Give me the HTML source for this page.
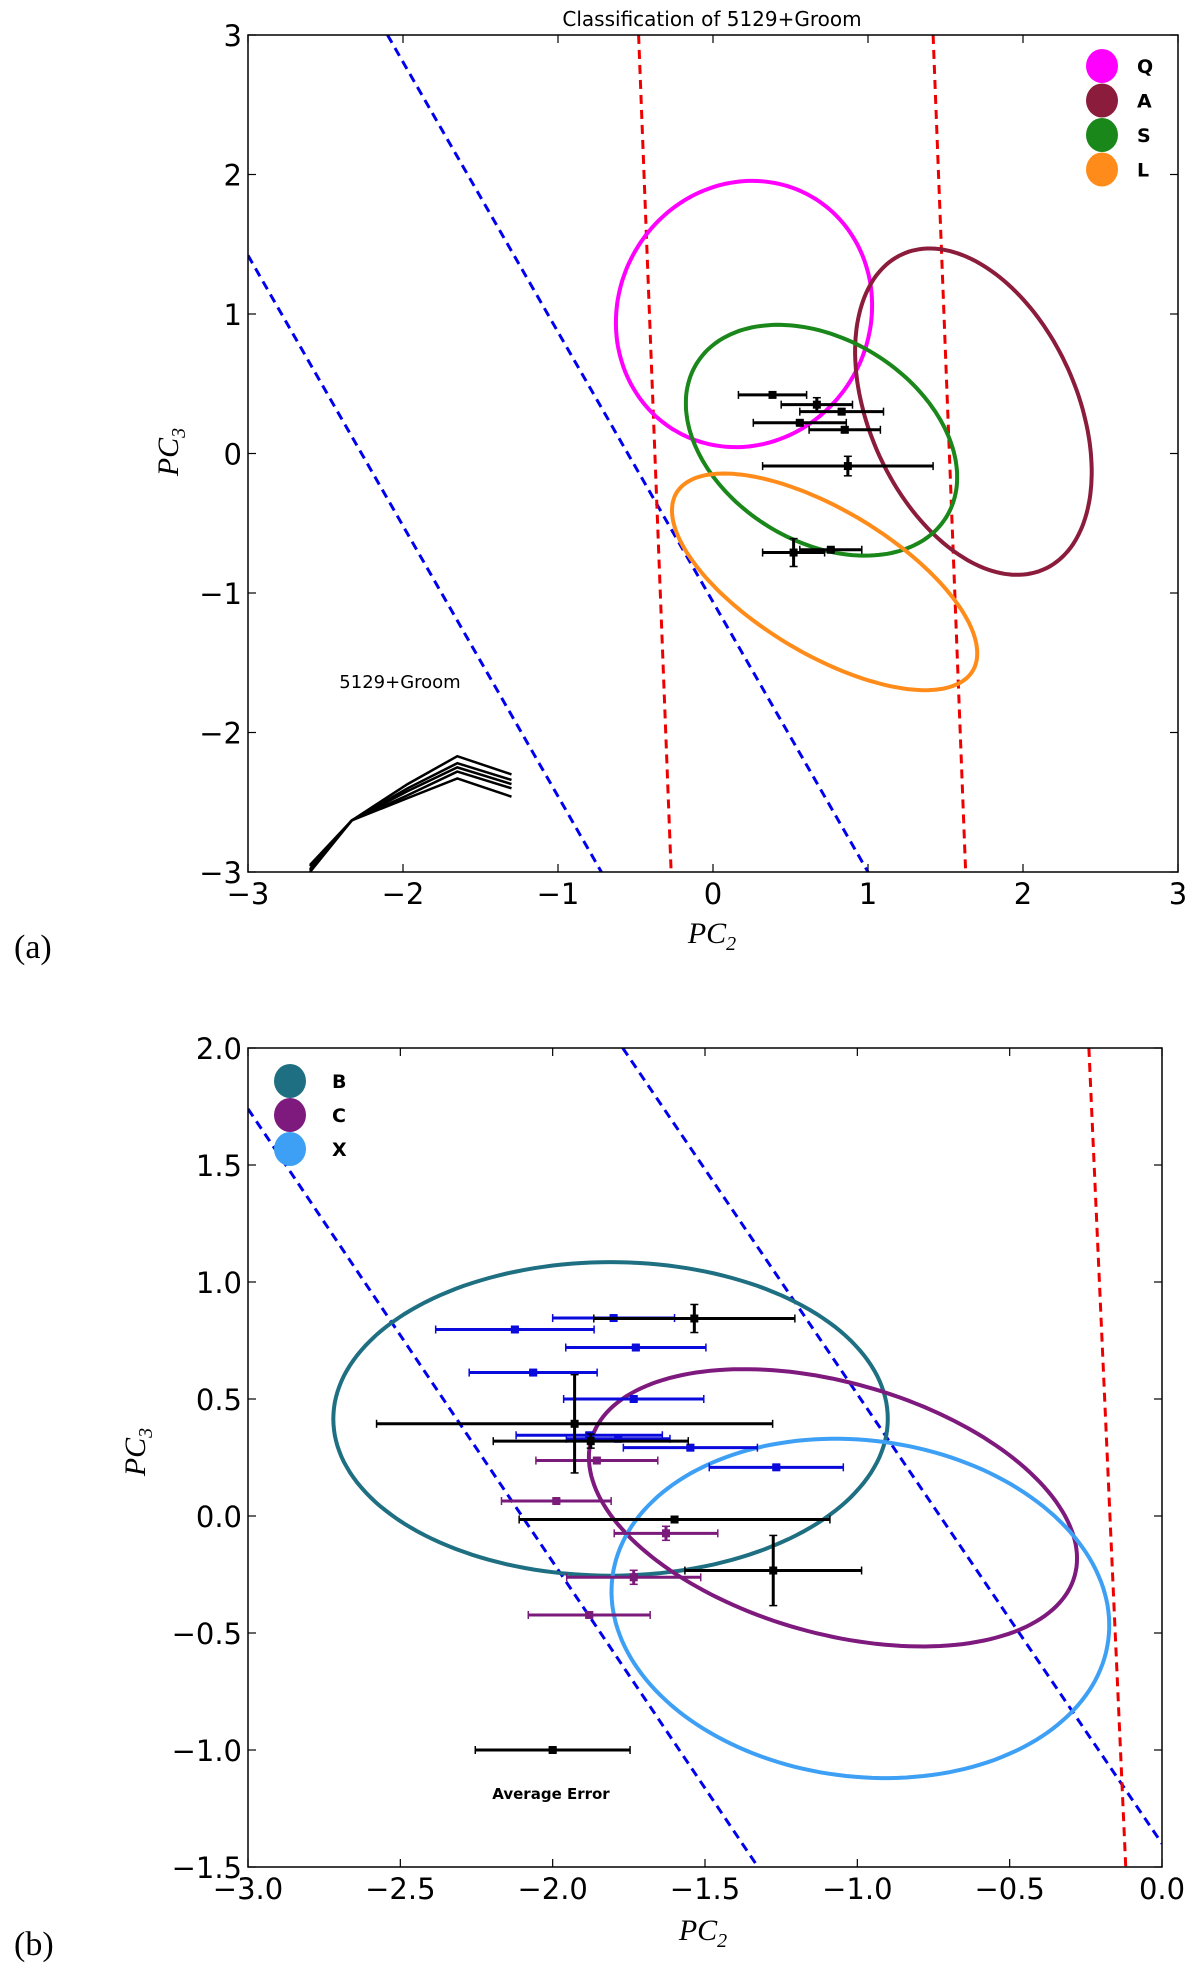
<!DOCTYPE html>
<html><head><meta charset="utf-8"><title>Classification of 5129+Groom</title>
<style>
html,body{margin:0;padding:0;background:#fff;}
svg{display:block;}
.tick{font-family:"DejaVu Sans","Liberation Sans",sans-serif;font-size:29px;fill:#000;}
.lab{font-family:"Liberation Serif",serif;font-style:italic;font-size:30px;fill:#000;}
.panel{font-family:"Liberation Serif",serif;font-size:34px;fill:#000;}
.leg{font-family:"DejaVu Sans","Liberation Sans",sans-serif;font-weight:bold;font-size:19px;fill:#000;}
</style></head>
<body>
<svg id="chart" width="1200" height="1965" viewBox="0 0 1200 1965" xmlns="http://www.w3.org/2000/svg">
<text x="712" y="26" text-anchor="middle" font-family="DejaVu Sans, Liberation Sans, sans-serif" font-size="20">Classification of 5129+Groom</text>
<text x="14" y="958" class="panel">(a)</text>
<text x="14" y="1955" class="panel">(b)</text>
<g id="pa"></g>
<g id="pb"></g>
</svg>
<script>
// ---------- Panel (a) data ----------
const aXTicks = [-3,-2,-1,0,1,2,3];
const aYTicks = [-3,-2,-1,0,1,2,3];
const aEllNames = ["Q","A","S","L"];
const aEllColors = ["#ff00ff","#8b1c3b","#1a871a","#ff8c1a"];
const aEllCx = [0.2,1.68,0.7,0.72];
const aEllCy = [1.0,0.3,0.095,-0.92];
const aEllA = [0.82,1.22,0.98,1.15];
const aEllB = [0.96,0.68,0.7,0.5];
const aEllAng = [-12,-70,-40,-35];
const aLineX1 = [-3,-2.1,-0.48,1.42];
const aLineY1 = [1.42,3,3,3];
const aLineX2 = [-0.72,1.0,-0.27,1.63];
const aLineY2 = [-3,-3,-3,-3];
const aLineColors = ["#0000ee","#0000ee","#ee0000","#ee0000"];
const aPtX = [0.384,0.67,0.83,0.56,0.85,0.87,0.76,0.52];
const aPtY = [0.42,0.35,0.30,0.22,0.17,-0.09,-0.69,-0.71];
const aPtXErr = [0.22,0.23,0.27,0.3,0.23,0.55,0.2,0.2];
const aPtYErr = [0.01,0.05,0.02,0.01,0.02,0.07,0.01,0.1];
const aCurveX = [-2.6,-2.33,-1.97,-1.65,-1.3];
const aCurveY1 = [-3,-2.63,-2.37,-2.17,-2.3];
const aCurveY2 = [-2.98,-2.63,-2.40,-2.22,-2.34];
const aCurveY3 = [-2.96,-2.63,-2.42,-2.25,-2.37];
const aCurveY4 = [-2.95,-2.63,-2.45,-2.28,-2.40];
const aCurveY5 = [-2.99,-2.63,-2.47,-2.33,-2.46];

// ---------- Panel (b) data ----------
const bXTicks = [-3.0,-2.5,-2.0,-1.5,-1.0,-0.5,0.0];
const bYTicks = [-1.5,-1.0,-0.5,0.0,0.5,1.0,1.5,2.0];
const bEllNames = ["B","C","X"];
const bEllColors = ["#1f6f82","#7e1a7e","#3ea0f5"];
const bEllCx = [-1.81,-1.08,-0.99];
const bEllCy = [0.415,0.035,-0.395];
const bEllA = [0.91,0.85,0.83];
const bEllB = [0.67,0.52,0.71];
const bEllAng = [0,-25,-20];
const bLineX1 = [-3,-1.77,-0.24];
const bLineY1 = [1.74,2,2];
const bLineX2 = [-1.326,0,-0.119];
const bLineY2 = [-1.5,-1.4,-1.5];
const bLineColors = ["#0000ee","#0000ee","#ee0000"];
const bBlueX = [-1.80,-2.124,-1.727,-2.064,-1.734,-1.88,-1.785,-1.548,-1.266];
const bBlueY = [0.846,0.797,0.72,0.613,0.50,0.345,0.33,0.292,0.208];
const bBlueXErr = [0.2,0.26,0.23,0.21,0.23,0.24,0.17,0.22,0.22];
const bPurpX = [-1.855,-1.988,-1.628,-1.734,-1.88];
const bPurpY = [0.237,0.064,-0.074,-0.262,-0.423];
const bPurpXErr = [0.2,0.18,0.17,0.22,0.2];
const bPurpYErr = [0.01,0.01,0.03,0.03,0.01];
const bBlackX = [-1.535,-1.928,-1.875,-1.6,-1.276,-2.0];
const bBlackY = [0.844,0.394,0.32,-0.015,-0.233,-1.0];
const bBlackXErr = [0.33,0.65,0.32,0.51,0.29,0.254];
const bBlackYErr = [0.06,0.21,0.03,0.01,0.15,0.01];

const NS = "http://www.w3.org/2000/svg";
function mk(tag, attrs, parent){
  const e = document.createElementNS(NS, tag);
  for (const k in attrs) e.setAttribute(k, attrs[k]);
  parent.appendChild(e);
  return e;
}
function scale(d0,d1,p0,p1){ return v => p0 + (v-d0)/(d1-d0)*(p1-p0); }

function axes(g, sx, sy, L, R, T, B, xt, yt, fmt){
  const frame = mk("rect",{x:L,y:T,width:R-L,height:B-T,fill:"none",stroke:"#000","stroke-width":1.5},g);
  
  
  xt.forEach(v=>{
    const x = sx(v);
    mk("line",{x1:x,y1:B,x2:x,y2:B-8,stroke:"#000","stroke-width":1.2},g);
    mk("line",{x1:x,y1:T,x2:x,y2:T+8,stroke:"#000","stroke-width":1.2},g);
    const t = mk("text",{x:x,y:B+32,"text-anchor":"middle",class:"tick"},g);
    t.textContent = (v<0?"\u2212":"")+fmt(Math.abs(v));
    
    
  });
  yt.forEach(v=>{
    const y = sy(v);
    mk("line",{x1:L,y1:y,x2:L+8,y2:y,stroke:"#000","stroke-width":1.2},g);
    mk("line",{x1:R,y1:y,x2:R-8,y2:y,stroke:"#000","stroke-width":1.2},g);
    const t = mk("text",{x:L-6,y:y+11,"text-anchor":"end",class:"tick"},g);
    t.textContent = (v<0?"\u2212":"")+fmt(Math.abs(v));
    
    
  });
}
function ellipse(g, sx, sy, cx, cy, a, b, angDeg, color, name){
  const th = angDeg*Math.PI/180;
  let d = "";
  for (let i=0;i<=180;i++){
    const p = i/180*2*Math.PI;
    const dx = a*Math.cos(p)*Math.cos(th) - b*Math.sin(p)*Math.sin(th);
    const dy = a*Math.cos(p)*Math.sin(th) + b*Math.sin(p)*Math.cos(th);
    d += (i?"L":"M")+sx(cx+dx).toFixed(1)+","+sy(cy+dy).toFixed(1);
  }
  const e = mk("path",{d:d+"Z",fill:"none",stroke:color,"stroke-width":4},g);
  
  
}
function dline(g, sx, sy, x1,y1,x2,y2,color){
  const e = mk("line",{x1:sx(x1),y1:sy(y1),x2:sx(x2),y2:sy(y2),stroke:color,"stroke-width":3,"stroke-dasharray":"9,6"},g);
  
  
}
function errbar(g, sx, sy, x, y, xe, ye, color, w){
  const eg = mk("g",{},g);
  
  
  const px = sx(x), py = sy(y);
  mk("line",{x1:sx(x-xe),y1:py,x2:sx(x+xe),y2:py,stroke:color,"stroke-width":w},eg);
  mk("line",{x1:sx(x-xe),y1:py-4,x2:sx(x-xe),y2:py+4,stroke:color,"stroke-width":1.5},eg);
  mk("line",{x1:sx(x+xe),y1:py-4,x2:sx(x+xe),y2:py+4,stroke:color,"stroke-width":1.5},eg);
  mk("line",{x1:px,y1:sy(y-ye),x2:px,y2:sy(y+ye),stroke:color,"stroke-width":w},eg);
  mk("line",{x1:px-4,y1:sy(y-ye),x2:px+4,y2:sy(y-ye),stroke:color,"stroke-width":1.5},eg);
  mk("line",{x1:px-4,y1:sy(y+ye),x2:px+4,y2:sy(y+ye),stroke:color,"stroke-width":1.5},eg);
  mk("rect",{x:px-4,y:py-4,width:8,height:8,fill:color},eg);
}
function legend(g, x, y0, dy, names, colors, lx){
  names.forEach((n,i)=>{
    const lg = mk("g",{},g);
    
    
    mk("ellipse",{cx:x,cy:y0+i*dy,rx:16,ry:17,fill:colors[i]},lg);
    const t = mk("text",{x:lx,y:y0+i*dy+7,class:"leg"},lg);
    t.textContent = n;
  });
}

// ---------- draw panel (a) ----------
(function(){
  const g = document.getElementById("pa");
  const L=248,R=1178,T=35,B=872;
  const sx = scale(-3,3,L,R), sy = scale(-3,3,B,T);
  const clip = mk("clipPath",{id:"ca"},g);
  mk("rect",{x:L,y:T,width:R-L,height:B-T},clip);
  const pg = mk("g",{"clip-path":"url(#ca)"},g);
  aLineX1.forEach((v,i)=>dline(pg,sx,sy,aLineX1[i],aLineY1[i],aLineX2[i],aLineY2[i],aLineColors[i]));
  aEllNames.forEach((n,i)=>ellipse(pg,sx,sy,aEllCx[i],aEllCy[i],aEllA[i],aEllB[i],aEllAng[i],aEllColors[i],n));
  aPtX.forEach((v,i)=>errbar(pg,sx,sy,aPtX[i],aPtY[i],aPtXErr[i],aPtYErr[i],"#000",3));
  [aCurveY1,aCurveY2,aCurveY3,aCurveY4,aCurveY5].forEach(ys=>{
    const pts = aCurveX.map((x,i)=>sx(x).toFixed(1)+","+sy(ys[i]).toFixed(1)).join(" ");
    const p = mk("polyline",{points:pts,fill:"none",stroke:"#000","stroke-width":2.5},pg);
    
    
  });
  axes(g,sx,sy,L,R,T,B,aXTicks,aYTicks,v=>String(v));
  const t1 = mk("text",{x:400,y:688,"text-anchor":"middle","font-family":"DejaVu Sans, Liberation Sans, sans-serif","font-size":18},g);
  t1.textContent = "5129+Groom";
  
  
  legend(g,1102,66,34.5,aEllNames,aEllColors,1137);
  const xl = mk("text",{x:712,y:943,"text-anchor":"middle",class:"lab"},g);
  xl.innerHTML = 'PC<tspan font-size="20" dy="7">2</tspan>';
  
  
  const yl = mk("text",{x:0,y:0,"text-anchor":"middle",class:"lab",transform:"translate(178,452) rotate(-90)"},g);
  yl.innerHTML = 'PC<tspan font-size="20" dy="7">3</tspan>';
  
  
})();

// ---------- draw panel (b) ----------
(function(){
  const g = document.getElementById("pb");
  const L=248,R=1162,T=1048,B=1867;
  const sx = scale(-3,0,L,R), sy = scale(-1.5,2,B,T);
  const clip = mk("clipPath",{id:"cb"},g);
  mk("rect",{x:L,y:T,width:R-L,height:B-T},clip);
  const pg = mk("g",{"clip-path":"url(#cb)"},g);
  bLineX1.forEach((v,i)=>dline(pg,sx,sy,bLineX1[i],bLineY1[i],bLineX2[i],bLineY2[i],bLineColors[i]));
  bEllNames.forEach((n,i)=>ellipse(pg,sx,sy,bEllCx[i],bEllCy[i],bEllA[i],bEllB[i],bEllAng[i],bEllColors[i],n));
  bBlueX.forEach((v,i)=>errbar(pg,sx,sy,bBlueX[i],bBlueY[i],bBlueXErr[i],0.01,"#0a0adc",3));
  bPurpX.forEach((v,i)=>errbar(pg,sx,sy,bPurpX[i],bPurpY[i],bPurpXErr[i],bPurpYErr[i],"#7a1a7a",3));
  bBlackX.forEach((v,i)=>errbar(pg,sx,sy,bBlackX[i],bBlackY[i],bBlackXErr[i],bBlackYErr[i],"#000",3));
  axes(g,sx,sy,L,R,T,B,bXTicks,bYTicks,v=>v.toFixed(1));
  const t1 = mk("text",{x:551,y:1799,"text-anchor":"middle","font-family":"DejaVu Sans, Liberation Sans, sans-serif","font-size":15,"font-weight":"bold"},g);
  t1.textContent = "Average Error";
  
  
  legend(g,290,1081,34,bEllNames,bEllColors,332);
  const xl = mk("text",{x:703,y:1940,"text-anchor":"middle",class:"lab"},g);
  xl.innerHTML = 'PC<tspan font-size="20" dy="7">2</tspan>';
  
  
  const yl = mk("text",{x:0,y:0,"text-anchor":"middle",class:"lab",transform:"translate(145,1452) rotate(-90)"},g);
  yl.innerHTML = 'PC<tspan font-size="20" dy="7">3</tspan>';
  
  
})();
</script>
</body></html>
